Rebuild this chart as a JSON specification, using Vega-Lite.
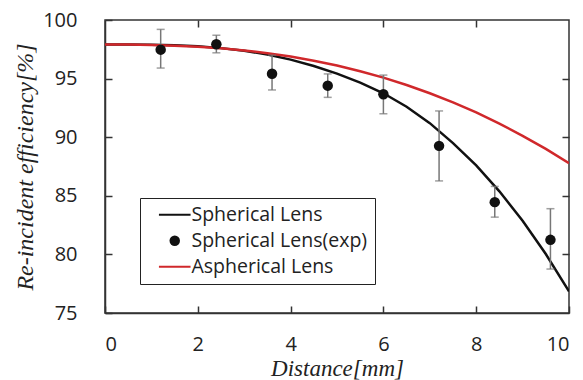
{
  "$schema": "https://vega.github.io/schema/vega-lite/v6.json",
  "width": 464,
  "height": 293,
  "autosize": {"type": "none"},
  "padding": {"left": 105, "top": 20, "right": 14, "bottom": 67},
  "background": "white",
  "datasets": {
    "curves": [
      {"x": 0, "y": 97.9, "series": "Spherical Lens"},
      {"x": 0.5, "y": 97.9, "series": "Spherical Lens"},
      {"x": 1, "y": 97.88, "series": "Spherical Lens"},
      {"x": 1.5, "y": 97.84, "series": "Spherical Lens"},
      {"x": 2, "y": 97.76, "series": "Spherical Lens"},
      {"x": 2.5, "y": 97.6, "series": "Spherical Lens"},
      {"x": 3, "y": 97.38, "series": "Spherical Lens"},
      {"x": 3.5, "y": 97.05, "series": "Spherical Lens"},
      {"x": 4, "y": 96.62, "series": "Spherical Lens"},
      {"x": 4.5, "y": 96.08, "series": "Spherical Lens"},
      {"x": 5, "y": 95.42, "series": "Spherical Lens"},
      {"x": 5.5, "y": 94.65, "series": "Spherical Lens"},
      {"x": 6, "y": 93.75, "series": "Spherical Lens"},
      {"x": 6.5, "y": 92.6, "series": "Spherical Lens"},
      {"x": 7, "y": 91.2, "series": "Spherical Lens"},
      {"x": 7.5, "y": 89.5, "series": "Spherical Lens"},
      {"x": 8, "y": 87.6, "series": "Spherical Lens"},
      {"x": 8.5, "y": 85.38, "series": "Spherical Lens"},
      {"x": 9, "y": 82.87, "series": "Spherical Lens"},
      {"x": 9.5, "y": 80.03, "series": "Spherical Lens"},
      {"x": 10, "y": 76.84, "series": "Spherical Lens"},
      {"x": 0, "y": 97.9, "series": "Aspherical Lens"},
      {"x": 0.5, "y": 97.9, "series": "Aspherical Lens"},
      {"x": 1, "y": 97.87, "series": "Aspherical Lens"},
      {"x": 1.5, "y": 97.81, "series": "Aspherical Lens"},
      {"x": 2, "y": 97.72, "series": "Aspherical Lens"},
      {"x": 2.5, "y": 97.58, "series": "Aspherical Lens"},
      {"x": 3, "y": 97.4, "series": "Aspherical Lens"},
      {"x": 3.5, "y": 97.17, "series": "Aspherical Lens"},
      {"x": 4, "y": 96.88, "series": "Aspherical Lens"},
      {"x": 4.5, "y": 96.53, "series": "Aspherical Lens"},
      {"x": 5, "y": 96.11, "series": "Aspherical Lens"},
      {"x": 5.5, "y": 95.63, "series": "Aspherical Lens"},
      {"x": 6, "y": 95.08, "series": "Aspherical Lens"},
      {"x": 6.5, "y": 94.45, "series": "Aspherical Lens"},
      {"x": 7, "y": 93.75, "series": "Aspherical Lens"},
      {"x": 7.5, "y": 92.97, "series": "Aspherical Lens"},
      {"x": 8, "y": 92.11, "series": "Aspherical Lens"},
      {"x": 8.5, "y": 91.16, "series": "Aspherical Lens"},
      {"x": 9, "y": 90.12, "series": "Aspherical Lens"},
      {"x": 9.5, "y": 89.0, "series": "Aspherical Lens"},
      {"x": 10, "y": 87.78, "series": "Aspherical Lens"}
    ],
    "exp": [
      {"x": 1.2, "y": 97.47, "lo": 95.9, "hi": 99.2, "series": "Spherical Lens(exp)"},
      {"x": 2.4, "y": 97.93, "lo": 97.2, "hi": 98.7, "series": "Spherical Lens(exp)"},
      {"x": 3.6, "y": 95.42, "lo": 94.03, "hi": 97.0, "series": "Spherical Lens(exp)"},
      {"x": 4.8, "y": 94.4, "lo": 93.4, "hi": 95.4, "series": "Spherical Lens(exp)"},
      {"x": 6.0, "y": 93.67, "lo": 92.0, "hi": 95.3, "series": "Spherical Lens(exp)"},
      {"x": 7.2, "y": 89.26, "lo": 86.27, "hi": 92.24, "series": "Spherical Lens(exp)"},
      {"x": 8.4, "y": 84.46, "lo": 83.18, "hi": 85.8, "series": "Spherical Lens(exp)"},
      {"x": 9.6, "y": 81.24, "lo": 78.75, "hi": 83.9, "series": "Spherical Lens(exp)"}
    ]
  },
  "layer": [
    {
      "data": {"name": "curves"},
      "mark": {"type": "line", "strokeWidth": 2.5, "clip": true},
      "encoding": {
        "x": {
          "field": "x", "type": "quantitative",
          "scale": {"domain": [0, 10], "nice": false},
          "axis": {"values": [0, 2, 4, 6, 8, 10], "title": "Distance[mm]", "labelPadding": 28, "titlePadding": 3, "titleFontSize": 23}
        },
        "y": {
          "field": "y", "type": "quantitative",
          "scale": {"domain": [75, 100], "nice": false, "zero": false},
          "axis": {"values": [75, 80, 85, 90, 95, 100], "title": "Re-incident efficiency[%]", "labelPadding": 35, "titlePadding": 5}
        },
        "color": {
          "field": "series", "type": "nominal",
          "scale": {
            "domain": ["Spherical Lens", "Spherical Lens(exp)", "Aspherical Lens"],
            "range": ["#111111", "#111111", "#d0282b"]
          },
          "legend": {
            "title": null,
            "orient": "none",
            "legendX": 35,
            "legendY": 178,
            "strokeColor": "#222222",
            "padding": 7,
            "symbolSize": 900,
            "symbolStrokeWidth": 2,
            "symbolOffset": 18,
            "labelFont": "Open Sans",
            "labelFontSize": 19.5,
            "labelColor": "#222222",
            "labelOffset": 7,
            "labelLimit": 400,
            "rowPadding": 5,
            "encode": {
              "symbols": {
                "update": {
                  "shape": {"signal": "datum.value === 'Spherical Lens(exp)' ? 'circle' : 'stroke'"},
                  "size": {"signal": "datum.value === 'Spherical Lens(exp)' ? 110 : 1000"},
                  "fill": {"signal": "datum.value === 'Aspherical Lens' ? '#d0282b' : '#111111'"},
                  "stroke": {"signal": "datum.value === 'Aspherical Lens' ? '#d0282b' : '#111111'"},
                  "strokeWidth": {"signal": "datum.value === 'Spherical Lens(exp)' ? 0 : 2"}
                }
              }
            }
          }
        }
      }
    },
    {
      "data": {"name": "exp"},
      "mark": {"type": "errorbar", "ticks": {"size": 8, "color": "#777777", "thickness": 1.5}, "rule": {"color": "#777777", "strokeWidth": 1.5}},
      "encoding": {
        "x": {"field": "x", "type": "quantitative", "axis": null},
        "y": {"field": "lo", "type": "quantitative", "axis": null},
        "y2": {"field": "hi"}
      }
    },
    {
      "data": {"name": "exp"},
      "mark": {"type": "point", "filled": true, "size": 110, "opacity": 1, "shape": "circle"},
      "encoding": {
        "x": {"field": "x", "type": "quantitative", "axis": null},
        "y": {"field": "y", "type": "quantitative", "axis": null},
        "color": {"field": "series", "type": "nominal"}
      }
    },
    {
      "data": {"name": "exp"},
      "mark": {"type": "point", "opacity": 0},
      "encoding": {
        "x": {"field": "x", "type": "quantitative", "axis": {"orient": "top", "values": [2, 4, 6, 8], "labels": false, "title": null, "domain": false}},
        "y": {"field": "y", "type": "quantitative", "axis": {"orient": "right", "values": [80, 85, 90, 95], "labels": false, "title": null, "domain": false}}
      }
    }
  ],
  "resolve": {"axis": {"x": "independent", "y": "independent"}},
  "config": {
    "view": {"stroke": "#333333", "strokeWidth": 1.5},
    "axis": {
      "grid": false,
      "domainColor": "#333333",
      "domainWidth": 1.5,
      "tickColor": "#333333",
      "tickWidth": 1.5,
      "tickSize": -7,
      "labelFont": "Open Sans",
      "labelFontSize": 20,
      "labelColor": "#222222",
      "titleFont": "Liberation Serif",
      "titleFontStyle": "italic",
      "titleFontWeight": "normal",
      "titleFontSize": 24,
      "titleColor": "#222222"
    }
  }
}
